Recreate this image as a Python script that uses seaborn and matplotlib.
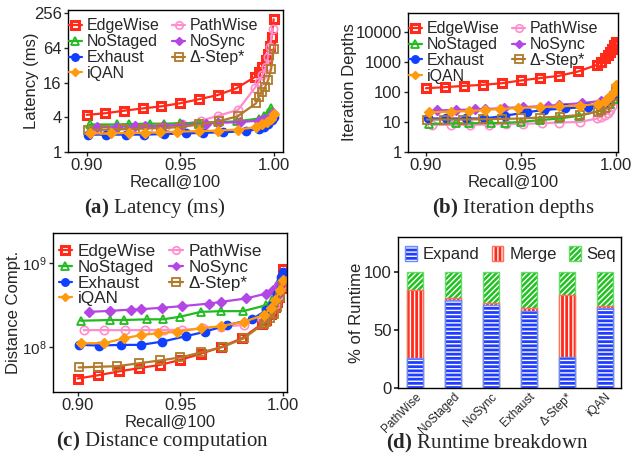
import pandas as pd
import seaborn as sns
import matplotlib.pyplot as plt
from matplotlib.ticker import NullLocator
from matplotlib.patches import Patch

sns.set_theme(style="ticks")
plt.rcParams["font.family"] = ["Liberation Sans", "DejaVu Sans"]
plt.rcParams["hatch.linewidth"] = 1.0
plt.rcParams["axes.linewidth"] = 1.0
plt.rcParams["mathtext.fontset"] = "custom"
plt.rcParams["mathtext.rm"] = "Liberation Sans"
plt.rcParams["mathtext.bf"] = "Liberation Serif:bold"

# ---- recall points of each method (shared by panels a, b, c)
recall_edgewise = [0.900, 0.910, 0.920, 0.930, 0.940, 0.950, 0.960, 0.970, 0.980,
                   0.990, 0.992, 0.994, 0.996, 0.997, 0.998, 0.999, 1.000]
recall_pathwise = [0.903, 0.913, 0.923, 0.933, 0.942, 0.951, 0.961, 0.970, 0.981,
                   0.990, 0.992, 0.994, 0.996, 0.997, 0.998, 0.9995]
recall_nostaged = [0.9016, 0.916, 0.9227, 0.934, 0.9416, 0.950, 0.960, 0.970, 0.9806,
                   0.992, 0.9947, 0.997, 0.9987]
recall_nosync = [0.9057, 0.916, 0.926, 0.931, 0.941, 0.951, 0.964, 0.970, 0.982,
                 0.992, 0.995, 0.998, 0.9995]
recall_exhaust = [0.9008, 0.9105, 0.921, 0.9307, 0.9413, 0.953, 0.962, 0.973, 0.985,
                  0.992, 0.9947, 0.997, 0.9992, 1.000]
recall_deltastep = [0.9005, 0.9097, 0.9194, 0.930, 0.940, 0.950, 0.960, 0.9707, 0.981,
                    0.9906, 0.992, 0.9939, 0.9955, 0.997, 0.9987, 1.000]
recall_iqan = [0.9016, 0.913, 0.9227, 0.931, 0.939, 0.9485, 0.960, 0.970, 0.981,
               0.9906, 0.994, 0.9963, 0.9987, 1.000]

# ---- (a) latency (ms)
lat_edgewise = [4.4, 4.7, 5.2, 5.7, 6.2, 7.0, 8.2, 9.7, 12.7, 20, 24, 30, 40, 50, 70, 100, 200]
lat_pathwise = [2.33, 2.4, 2.5, 2.6, 2.75, 3.0, 3.5, 4.2, 5.4, 13, 16.5, 21.5, 30, 45, 66, 138]
lat_nostaged = [3.0, 3.0, 3.05, 3.1, 3.1, 3.15, 3.2, 3.3, 3.4, 3.8, 4.2, 4.8, 5.8]
lat_nosync = [2.7, 2.75, 2.8, 2.8, 2.85, 2.95, 3.1, 3.2, 3.3, 3.5, 3.7, 4.1, 4.8]
lat_exhaust = [2.0, 2.0, 2.0, 2.0, 2.05, 2.1, 2.15, 2.2, 2.3, 2.5, 2.7, 3.0, 3.6, 4.0]
lat_deltastep = [2.4, 2.45, 2.5, 2.55, 2.6, 2.7, 3.0, 3.4, 4.2, 7, 9, 11, 13.5, 17.6, 28, 62]
lat_iqan = [2.1, 2.1, 2.15, 2.15, 2.2, 2.25, 2.3, 2.35, 2.45, 2.7, 3.0, 3.3, 3.8, 4.6]

# ---- (b) iteration depths
iter_edgewise = [132, 143, 158, 171, 194, 239, 287, 340, 475, 790, 1000, 1300, 1700, 2100,
                 2700, 3500, 4500]
iter_pathwise = [8, 8, 8, 8.2, 8.5, 8.7, 9, 9.5, 10, 13, 15, 17, 20, 25, 35, 55]
iter_nostaged = [8.6, 9.0, 9.0, 9.2, 9.3, 10, 11.5, 13, 16, 24, 30, 40, 60]
iter_nosync = [24, 25, 26, 26.5, 29, 31, 34, 37, 42, 50, 60, 75, 110]
iter_exhaust = [13, 13, 13, 13, 16, 21, 25, 28, 32, 38, 45, 60, 90, 115]
iter_deltastep = [12, 12, 12, 12.3, 12.6, 13, 14, 15, 17, 22, 25, 30, 38, 50, 75, 120]
iter_iqan = [21, 22, 23, 25, 27, 29, 31, 33, 35, 40, 50, 65, 100, 170]

# ---- (c) distance computations
dist_edgewise = [4.2e7, 4.6e7, 5.1e7, 5.6e7, 6.1e7, 7.0e7, 8.3e7, 1.0e8, 1.27e8, 1.9e8,
                 2.1e8, 2.5e8, 3.0e8, 3.4e8, 4.0e8, 5.0e8, 8.5e8]
dist_pathwise = [1.59e8, 1.59e8, 1.59e8, 1.59e8, 1.6e8, 1.6e8, 1.67e8, 1.75e8, 1.83e8,
                 2.2e8, 2.5e8, 2.8e8, 3.2e8, 3.6e8, 4.2e8, 5.5e8]
dist_nostaged = [2.06e8, 2.1e8, 2.1e8, 2.14e8, 2.14e8, 2.3e8, 2.63e8, 2.68e8, 2.68e8,
                 3.16e8, 3.6e8, 4.8e8, 6.5e8]
dist_nosync = [2.63e8, 2.7e8, 2.8e8, 2.83e8, 2.94e8, 3.08e8, 3.3e8, 3.46e8, 3.8e8,
               4.35e8, 4.8e8, 5.7e8, 6.5e8]
dist_exhaust = [1.06e8, 1.04e8, 1.06e8, 1.06e8, 1.16e8, 1.35e8, 1.52e8, 1.83e8, 2.14e8,
                2.76e8, 3.16e8, 4.35e8, 6.9e8, 7.9e8]
dist_deltastep = [5.7e7, 5.8e7, 5.9e7, 6.4e7, 6.9e7, 7.5e7, 8.6e7, 1.0e8, 1.27e8, 1.9e8,
                  2.0e8, 2.2e8, 2.5e8, 3.0e8, 4.0e8, 5.2e8]
dist_iqan = [1.11e8, 1.11e8, 1.27e8, 1.39e8, 1.46e8, 1.52e8, 1.67e8, 1.78e8, 2.0e8,
             2.4e8, 2.9e8, 3.6e8, 4.8e8, 6.3e8]

# ---- (d) runtime breakdown (%)
bd_methods = ["PathWise", "NoStaged", "NoSync", "Exhaust", "Δ-Step*", "iQAN"]
bd_expand = [25.4, 75.8, 71.5, 66.6, 26.5, 68.6]
bd_merge = [59.0, 2.0, 2.0, 2.3, 53.3, 2.3]
bd_seq = [15.6, 22.2, 26.5, 31.1, 20.2, 29.1]

order = ["EdgeWise", "PathWise", "NoStaged", "NoSync", "Exhaust", "Δ-Step*", "iQAN"]
recall = dict(zip(order, [recall_edgewise, recall_pathwise, recall_nostaged, recall_nosync,
                          recall_exhaust, recall_deltastep, recall_iqan]))
latency = dict(zip(order, [lat_edgewise, lat_pathwise, lat_nostaged, lat_nosync,
                           lat_exhaust, lat_deltastep, lat_iqan]))
iters = dict(zip(order, [iter_edgewise, iter_pathwise, iter_nostaged, iter_nosync,
                         iter_exhaust, iter_deltastep, iter_iqan]))
dists = dict(zip(order, [dist_edgewise, dist_pathwise, dist_nostaged, dist_nosync,
                         dist_exhaust, dist_deltastep, dist_iqan]))

# colour, marker, hollow?, marker edge width
style = {
    "EdgeWise": ("#ff2a1a", "s", True, 2.2),
    "PathWise": ("#ff8ccc", "o", True, 1.2),
    "NoStaged": ("#1fbb1f", "^", True, 1.3),
    "NoSync": ("#b446e6", "D", False, 1.0),
    "Exhaust": ("#1040ff", "o", False, 1.0),
    "Δ-Step*": ("#b07a2a", "s", True, 1.3),
    "iQAN": ("#ff9a0e", "D", False, 1.0),
}
legend_order = ["EdgeWise", "NoStaged", "Exhaust", "iQAN", "PathWise", "NoSync", "Δ-Step*"]


def line_panel(ax, values, leg_fs, leg_anchor):
    for m in order:
        c, mk, hollow, mew = style[m]
        df = pd.DataFrame({"recall": recall[m], "val": values[m]})
        ms = 4.8 if mk == "D" else 6
        sns.lineplot(data=df, x="recall", y="val", ax=ax, color=c, lw=1.6, marker=mk,
                     markersize=ms, mfc="none" if hollow else c, mec=c, mew=mew,
                     label=m, sort=False, estimator=None)
    h, l = ax.get_legend_handles_labels()
    hd = dict(zip(l, h))
    ax.legend([hd[k] for k in legend_order], legend_order, ncol=2, loc="upper left",
              bbox_to_anchor=leg_anchor, frameon=False, fontsize=leg_fs,
              handlelength=0.8, handletextpad=0.3, columnspacing=0.8, markerscale=0.9,
              labelspacing=0.05, borderpad=0.2, borderaxespad=0.2)
    ax.set_xticks([0.90, 0.95, 1.00], ["0.90", "0.95", "1.00"])
    ax.set_xlabel("Recall@100", fontsize=12, labelpad=1)
    ax.tick_params(labelsize=12, length=3, width=1, pad=1.5)
    ax.yaxis.set_minor_locator(NullLocator())
    for s in ax.spines.values():
        s.set_visible(True)
        s.set_color("black")


fig = plt.figure(figsize=(6.33, 4.62), dpi=100)

# (a)
ax_a = fig.add_axes([0.1074, 0.671, 0.3397, 0.3074])
ax_a.set_yscale("log", base=2)
line_panel(ax_a, latency, 11.5, (-0.025, 0.985))
ax_a.set_xlim(0.890, 1.005)
ax_a.set_ylim(1, 290)
ax_a.set_yticks([1, 4, 16, 64, 256], ["1", "4", "16", "64", "256"])
ax_a.set_ylabel("Latency (ms)", fontsize=12, labelpad=-4)

# (b)
ax_b = fig.add_axes([0.6445, 0.671, 0.3318, 0.301])
ax_b.set_yscale("log")
line_panel(ax_b, iters, 11.5, (-0.025, 0.985))
ax_b.set_xlim(0.8905, 1.001)
ax_b.set_ylim(1, 42000)
ax_b.set_yticks([1, 10, 100, 1000, 10000], ["1", "10", "100", "1000", "10000"])
ax_b.set_ylabel("Iteration Depths", fontsize=12, labelpad=-1.3)

# (c)
ax_c = fig.add_axes([0.0837, 0.1515, 0.3697, 0.3442])
ax_c.set_yscale("log")
line_panel(ax_c, dists, 12.3, (-0.005, 0.975))
ax_c.set_xlim(0.888, 1.002)
ax_c.set_ylim(2.9e7, 2.3e9)
ax_c.set_yticks([1e8, 1e9])
ax_c.yaxis.set_minor_locator(NullLocator())
ax_c.tick_params(axis="y", labelsize=11)
ax_c.set_ylabel("Distance Compt.", fontsize=12, labelpad=0.5)

# (d) stacked bars drawn as cumulative layers
ax_d = fig.add_axes([0.6288, 0.1602, 0.3523, 0.3268])
bd = pd.DataFrame({"method": bd_methods, "expand": bd_expand,
                   "merge": bd_merge, "seq": bd_seq})
bd["top_merge"] = bd["expand"] + bd["merge"]
bd["top_seq"] = bd["top_merge"] + bd["seq"]
layers = [("top_seq", "Seq", "#22c022", "#66dd66", "//////"),
          ("top_merge", "Merge", "#ff2a1a", "#ff7060", "||||"),
          ("expand", "Expand", "#1f3cff", "#6a8cff", "----")]


def white_hatch(p):
    if hasattr(p, "set_hatchcolor"):
        p.set_hatchcolor("white")
    else:
        p._hatch_color = (1, 1, 1, 1)


handles = {}
for col, name, fc, ec, hatch in layers:
    n0 = len(ax_d.patches)
    sns.barplot(data=bd, x="method", y=col, ax=ax_d, color=fc, width=0.42,
                edgecolor=ec, linewidth=1.0, hatch=hatch, saturation=1)
    for p in ax_d.patches[n0:]:
        white_hatch(p)
    hp = Patch(facecolor=fc, edgecolor=ec, hatch=hatch, linewidth=1.0)
    white_hatch(hp)
    handles[name] = hp

ax_d.legend([handles[k] for k in ["Expand", "Merge", "Seq"]], ["Expand", "Merge", "Seq"],
            ncol=3, loc="upper center", bbox_to_anchor=(0.505, 1.0), frameon=False,
            fontsize=12, handlelength=0.7, handleheight=1.0, handletextpad=0.35,
            columnspacing=0.75, borderaxespad=0.15)
ax_d.set_ylim(0, 130)
ax_d.set_xlim(-0.45, 5.42)
ax_d.set_yticks([0, 50, 100])
ax_d.set_xlabel("")
ax_d.set_ylabel("% of Runtime", fontsize=12, labelpad=0)
ax_d.tick_params(axis="y", labelsize=12, length=3, pad=1.5)
ax_d.tick_params(axis="x", length=0, pad=2)
plt.setp(ax_d.get_xticklabels(), rotation=45, ha="right", rotation_mode="anchor",
         fontsize=8.5)
for s in ax_d.spines.values():
    s.set_visible(True)
    s.set_color("black")

# captions
captions = [(155, 208, "(a)", "Latency (ms)"),
            (513, 208, "(b)", "Iteration depths"),
            (162, 441, "(c)", "Distance computation"),
            (487, 443, "(d)", "Runtime breakdown")]
for x, y, tag, rest in captions:
    fig.text(x / 633, 1 - y / 462, r"$\mathbf{%s}$ %s" % (tag, rest), fontsize=15,
             family="Liberation Serif", va="center", ha="center")

fig.savefig("out.png", dpi=100)
